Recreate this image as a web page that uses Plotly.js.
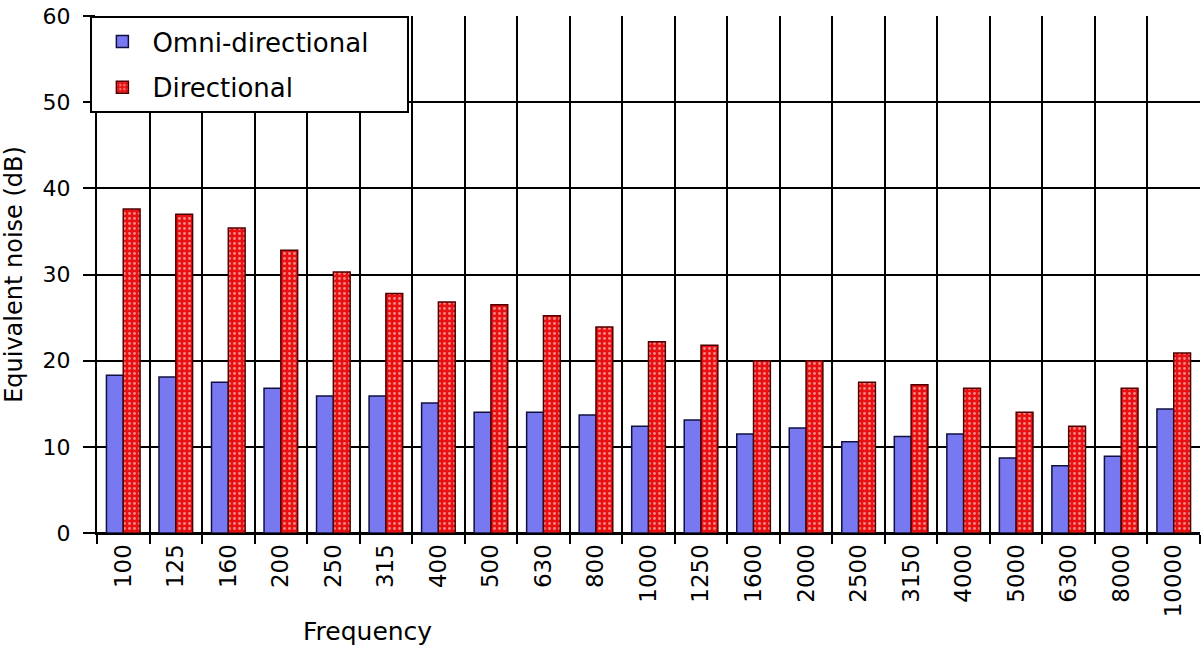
<!DOCTYPE html>
<html>
<head>
<meta charset="utf-8">
<script src="https://cdn.plot.ly/plotly-3.0.1.min.js"></script>
<style>html,body{margin:0;padding:0;background:#fff;}#chart{width:1203px;height:646px;}</style>
</head>
<body>
<div id="chart"></div>
<script>
const frequencies = ["100","125","160","200","250","315","400","500","630","800","1000","1250","1600","2000","2500","3150","4000","5000","6300","8000","10000"];
const omniDirectional = [18.3,18.1,17.5,16.8,15.9,15.9,15.1,14.0,14.0,13.7,12.4,13.1,11.5,12.2,10.6,11.2,11.5,8.7,7.8,8.9,14.4];
const directional = [37.6,37.0,35.4,32.8,30.3,27.8,26.8,26.5,25.2,23.9,22.2,21.8,20.0,20.0,17.5,17.2,16.8,14.0,12.4,16.8,20.9];
const yTicks = [0,10,20,30,40,50,60];

const fontFam = "DejaVu Sans, Arial, sans-serif";
const traces = [
  {type:'bar', name:'Omni-directional\u00a0\u00a0\u00a0\u00a0', legendgroup:'a', x:frequencies, y:omniDirectional,
   marker:{color:'#7878f0', line:{color:'#101040', width:1.5}}},
  {type:'bar', name:'Directional', legendgroup:'b', x:frequencies, y:directional,
   marker:{color:'#e81010', line:{color:'#500000', width:1.5},
     pattern:{shape:'.', fgcolor:'#ffffff', bgcolor:'#e81010', size:5, solidity:0.25, fillmode:'overlay'}}}
];
const layout = {
  width:1203, height:646,
  margin:{l:97, r:3, t:16, b:113},
  paper_bgcolor:'#fff', plot_bgcolor:'#fff',
  font:{family:fontFam, size:23, color:'#000'},
  barmode:'group', bargap:0.36, bargroupgap:0,
  showlegend:true,
  legend:{x:-0.006, xanchor:'left', y:1, yanchor:'top', bgcolor:'#fff', bordercolor:'#000', borderwidth:2,
    font:{family:fontFam, size:26, color:'#000'}, itemwidth:50, tracegroupgap:9},
  xaxis:{type:'category', tickson:'boundaries', showgrid:true, gridcolor:'#000', gridwidth:2,
    ticks:'outside', ticklen:9, tickwidth:2, tickcolor:'#000', tickangle:-90,
    showline:true, linecolor:'#000', linewidth:2,
    tickfont:{family:fontFam, size:23},
    title:{text:''}},
  yaxis:{range:[0,60], tickvals:yTicks, ticktext:yTicks.map(String), showgrid:true, gridcolor:'#000', gridwidth:2,
    ticks:'outside', ticklen:12, tickwidth:2, tickcolor:'#000', ticklabelstandoff:8,
    showline:true, linecolor:'#000', linewidth:2, zeroline:true, zerolinecolor:'#000', zerolinewidth:2,
    tickfont:{family:fontFam, size:22},
    title:{text:'Equivalent noise (dB)', font:{family:fontFam, size:24}, standoff:14}},
  annotations:[{text:'Frequency', xref:'paper', yref:'paper', x:(367-97)/1103, y:-0.19, xanchor:'center', yanchor:'middle', showarrow:false,
    font:{family:fontFam, size:25, color:'#000'}}]
};
Plotly.newPlot('chart', traces, layout, {displayModeBar:false, staticPlot:true});
</script>
</body>
</html>
